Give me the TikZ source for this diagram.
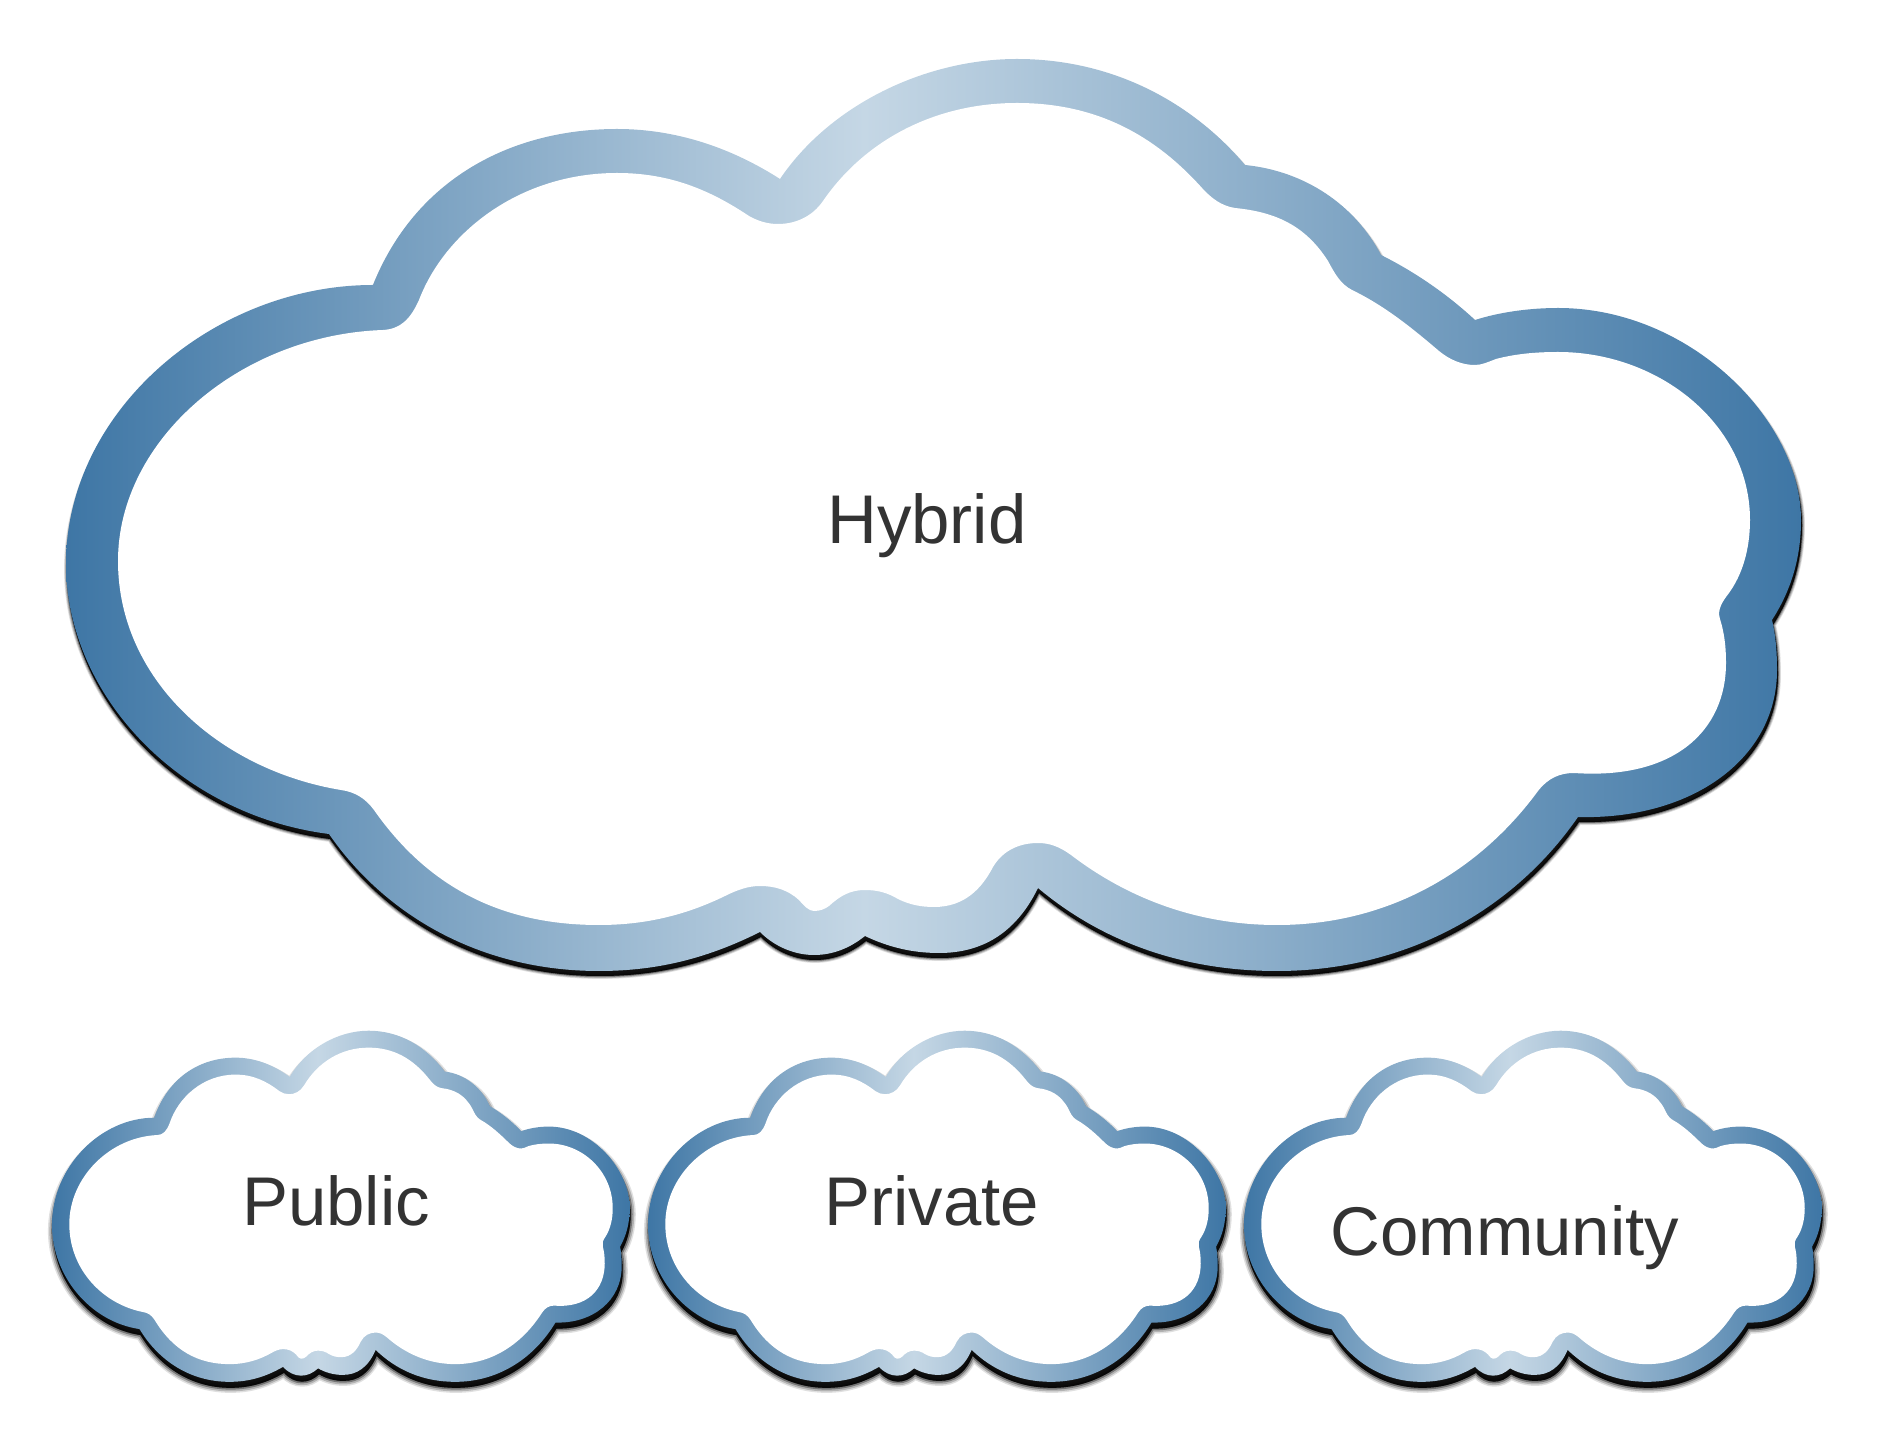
\documentclass[tikz,border=0pt]{standalone}
\usepackage{fontspec}
\setmainfont{Liberation Sans}
\definecolor{rimdark}{RGB}{62,118,165}
\definecolor{rimlight}{RGB}{197,215,229}
\definecolor{labeltext}{RGB}{51,51,51}
\pgfdeclarehorizontalshading{cloudrimshade}{100bp}{
    color(0bp)=(rimdark); color(25bp)=(rimdark); color(48bp)=(rimlight); color(75bp)=(rimdark); color(100bp)=(rimdark)}

\newcommand{\cloudouter}{
    (329,834) .. controls (180,815) and (66,695) .. (66,564)
    .. controls (66,410) and (215,285) .. (373,285)
    .. controls (415,180) and (510,129) .. (617,129)
    .. controls (675,129) and (730,147) .. (780,179)
    .. controls (830,105) and (925,59) .. (1017,59)
    .. controls (1110,59) and (1190,100) .. (1245,165)
    .. controls (1305,171) and (1355,205) .. (1381,255)
    .. controls (1415,272) and (1447,294) .. (1475,320)
    .. controls (1500,312) and (1530,308) .. (1558,308)
    .. controls (1690,308) and (1801,420) .. (1801,520)
    .. controls (1801,560) and (1790,592) .. (1772,620)
    .. controls (1776,637) and (1777,653) .. (1777,670)
    .. controls (1777,760) and (1690,820) .. (1578,817)
    .. controls (1510,915) and (1400,971) .. (1277,971)
    .. controls (1180,971) and (1100,940) .. (1038,888)
    .. controls (1015,935) and (980,953) .. (939,953)
    .. controls (912,953) and (888,947) .. (865,936)
    .. controls (850,948) and (833,955) .. (814,955)
    .. controls (795,955) and (775,947) .. (760,932)
    .. controls (710,957) and (660,971) .. (599,971)
    .. controls (480,971) and (385,915) .. (329,834)
    -- cycle}
\newcommand{\cloudinner}{
    (118,561) .. controls (118,680) and (220,770) .. (341,790)
    .. controls (355,792) and (365,798) .. (374,810)
    .. controls (430,890) and (505,925) .. (599,925)
    .. controls (650,925) and (690,913) .. (725,896)
    .. controls (737,890) and (748,886) .. (760,886)
    .. controls (775,886) and (788,890) .. (799,900)
    .. controls (804,906) and (809,911) .. (814,911)
    .. controls (820,911) and (825,909) .. (829,906)
    .. controls (840,896) and (850,890) .. (865,890)
    .. controls (878,890) and (888,893) .. (898,899)
    .. controls (910,905) and (922,907) .. (934,907)
    .. controls (965,907) and (982,888) .. (993,867)
    .. controls (1003,850) and (1020,843) .. (1038,843)
    .. controls (1050,843) and (1060,847) .. (1071,855)
    .. controls (1130,900) and (1200,925) .. (1277,925)
    .. controls (1390,925) and (1480,870) .. (1538,791)
    .. controls (1548,778) and (1560,773) .. (1574,773)
    .. controls (1675,780) and (1726,730) .. (1726,663)
    .. controls (1726,645) and (1724,632) .. (1720,619)
    .. controls (1717,610) and (1722,602) .. (1729,593)
    .. controls (1742,575) and (1750,550) .. (1750,520)
    .. controls (1750,425) and (1660,352) .. (1558,352)
    .. controls (1535,352) and (1515,354) .. (1496,359)
    .. controls (1488,362) and (1482,365) .. (1475,365)
    .. controls (1462,365) and (1450,360) .. (1439,351)
    .. controls (1412,328) and (1385,306) .. (1352,290)
    .. controls (1340,284) and (1334,272) .. (1328,261)
    .. controls (1305,225) and (1275,212) .. (1235,208)
    .. controls (1222,206) and (1212,199) .. (1202,188)
    .. controls (1150,130) and (1090,103) .. (1017,103)
    .. controls (935,103) and (865,140) .. (823,201)
    .. controls (812,217) and (795,224) .. (778,224)
    .. controls (767,224) and (758,221) .. (749,216)
    .. controls (710,190) and (670,173) .. (617,173)
    .. controls (520,173) and (445,232) .. (419,300)
    .. controls (410,320) and (400,329) .. (383,330)
    .. controls (240,335) and (118,440) .. (118,561)
    -- cycle}
% x, y of the origin, then the two scales, then the drop and the blur of the shadow
\newcommand{\drawcloud}[6]{
    \begin{scope}[shift={(#1+1,#2+#5)}, xscale=#3, yscale=#4]
        \fill[cloudshadow, draw, line width=2.4pt*#6, opacity=0.12] \cloudouter;
        \fill[cloudshadow, draw, line width=1.7pt*#6, opacity=0.2] \cloudouter;
        \fill[cloudshadow, draw, line width=0.85pt*#6, opacity=0.35] \cloudouter;
        \fill[cloudshadow, opacity=0.85] \cloudouter;
    \end{scope}
    \begin{scope}[shift={(#1,#2)}, xscale=#3, yscale=#4]
        \begin{scope}
            \clip \cloudouter;
            \shade[cloudrim] (66, 0) rectangle (1801, 1000);
        \end{scope}
        \fill[white] \cloudinner;
    \end{scope}
}

\begin{document}
\begin{tikzpicture}[x=0.01cm, y=-0.01cm]
    \tikzstyle{cloudrim} = [shading=cloudrimshade]
    \tikzstyle{cloudshadow} = [black, line join=round]
    \tikzstyle{cloudlabel} = [text=labeltext, font=\fontsize{19.6pt}{24pt}\selectfont]
    \useasboundingbox (0, 0) rectangle (1878, 1434);

    \drawcloud{0}{0}{1}{1}{5}{0.7}
    \drawcloud{30}{1008}{0.333}{0.385}{6}{1.2}
    \drawcloud{626}{1008}{0.333}{0.385}{6}{1.2}
    \drawcloud{1222}{1008}{0.333}{0.385}{6}{1.2}

    \node[cloudlabel] (hybrid) at (927, 526) {Hybrid};
    \node[cloudlabel] (public) at (336, 1201) {Public};
    \node[cloudlabel] (private) at (932, 1201) {Private};
    \node[cloudlabel] (community) at (1505, 1238) {Community};
\end{tikzpicture}
\end{document}
